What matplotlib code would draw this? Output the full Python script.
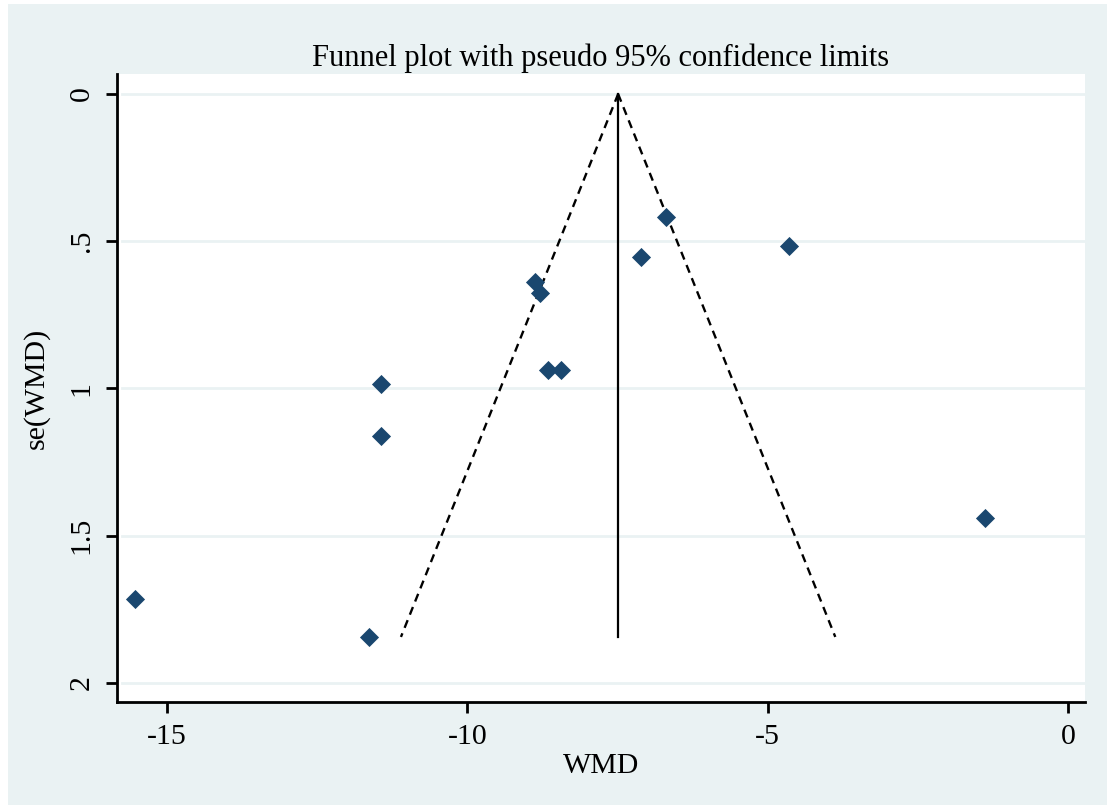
import numpy as np
import matplotlib
matplotlib.use("Agg")
import matplotlib.pyplot as plt

# study effects (WMD) and their standard errors
wmd = [-15.53, -11.64, -11.44, -11.44, -8.87, -8.79, -8.66, -8.44, -7.11, -6.69, -4.64, -1.38]
se = [1.715, 1.844, 0.985, 1.161, 0.638, 0.676, 0.937, 0.937, 0.553, 0.418, 0.516, 1.44]
pooled = -7.49
se_max = 1.844

xticks = [-15, -10, -5, 0]
yticks = [0, 0.5, 1, 1.5, 2]
ytick_labels = ["0", ".5", "1", "1.5", "2"]

bg = "#eaf2f3"
navy = "#1a476f"

plt.rcParams["font.family"] = ["Liberation Serif", "DejaVu Serif"]

fig = plt.figure(figsize=(11.07, 8.05), dpi=100)
fig.patch.set_facecolor("white")
fig.patches.append(plt.Rectangle((8 / 1107, 0), 1 - 8 / 1107, 1 - 4 / 805,
                                 transform=fig.transFigure, facecolor=bg,
                                 edgecolor="none", zorder=-10))

ax = fig.add_axes([117 / 1107, 1 - 702 / 805, (1085 - 117) / 1107, (702 - 74) / 805])
ax.set_facecolor("white")

for y in yticks:
    ax.axhline(y, xmin=0.005, color=bg, lw=2, zorder=0)

# funnel limits
s = np.array([0, se_max])
ax.plot([pooled, pooled], [0, se_max], color="black", lw=1.6, zorder=2)
ax.plot(pooled - 1.96 * s, s, color="black", lw=1.7, dashes=(3.5, 2.5), zorder=2)
ax.plot(pooled + 1.96 * s, s, color="black", lw=1.7, dashes=(3.5, 2.5), zorder=2)

ax.scatter(wmd, se, marker="D", s=95, color=navy, zorder=3, linewidths=0)

ax.set_xlim(-15.83, 0.28)
ax.set_ylim(2.065, -0.068)
ax.set_xticks(xticks)
ax.set_xticklabels([str(t) for t in xticks])
ax.set_yticks(yticks)
ax.set_yticklabels(ytick_labels, rotation=90, va="center")

for side in ["top", "right"]:
    ax.spines[side].set_visible(False)
for side in ["left", "bottom"]:
    ax.spines[side].set_linewidth(2)
ax.tick_params(length=8, width=2, labelsize=21.5, pad=8)

ax.set_xlabel("WMD", fontsize=21.5, labelpad=2)
ax.set_ylabel("se(WMD)", fontsize=21.5, labelpad=14)
ax.set_title("Funnel plot with pseudo 95% confidence limits", fontsize=22, pad=6)

fig.savefig("out.png", dpi=100, facecolor=fig.get_facecolor())
